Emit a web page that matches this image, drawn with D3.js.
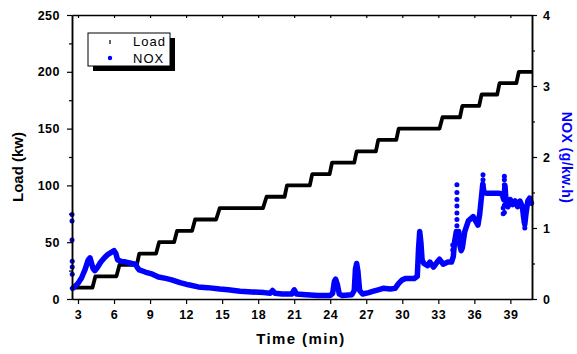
<!DOCTYPE html>
<html><head><meta charset="utf-8">
<script src="https://cdn.jsdelivr.net/npm/d3@7"></script>
<style>
html,body{margin:0;padding:0;background:#fff;}
svg{display:block;font-family:"Liberation Sans",Arial,sans-serif;}
.tick text{font-weight:bold;font-size:12.5px;letter-spacing:0.5px;fill:#000;}
</style></head>
<body>
<svg id="c" width="577" height="354"></svg>
<script>
// Load (kW) step profile, breakpoints
const loadTime  = [2.5,4.2,4.45,6.2,6.45,7.9,8.1,9.5,9.75,11.0,11.25,12.5,12.75,14.5,14.8,18.4,18.7,20.2,20.4,22.3,22.5,23.95,24.15,26.0,26.2,27.8,28.0,29.5,29.7,33.1,33.35,34.8,35.0,36.4,36.6,37.9,38.1,39.5,39.7,40.8];
const loadValue = [10,10,20,20,30,30,40,40,50,50,60,60,70,70,80,80,90,90,100,100,110,110,120,120,130,130,140,140,150,150,160,160,170,170,180,180,190,190,200,200];

// NOX (g/kW.h) main trace
const noxTime  = [2.55,2.7,3.0,3.3,3.6,3.85,4.0,4.1,4.25,4.4,4.6,4.9,5.2,5.5,5.8,6.0,6.15,6.3,6.6,7.0,7.5,7.8,7.95,8.1,8.6,9.2,9.7,10.3,10.8,11.5,12.2,13.0,13.8,14.8,15.5,16.5,17.5,18.5,19.0,19.2,19.4,20.0,20.8,21.0,21.2,22.0,23.0,24.0,24.2,24.35,24.45,24.6,24.75,25.0,25.8,26.0,26.1,26.2,26.3,26.45,26.7,27.2,27.6,28.0,28.4,29.0,29.4,29.7,30.0,30.3,31.0,31.25,31.35,31.45,31.55,31.65,31.8,32.1,32.3,32.6,32.9,33.1,33.4,33.8,34.1,34.25,34.35,34.5,34.6,34.7,34.8,34.9,35.0,35.2,35.5,35.9,36.1,36.3,36.45,36.6,36.7,36.8,37.0,37.5,38.0,38.3,38.45,38.55,38.65,38.8,39.0,39.2,39.4,39.6,39.8,40.0,40.1,40.2,40.3,40.45,40.6,40.75];
const noxValue = [0.15,0.17,0.22,0.3,0.42,0.55,0.58,0.52,0.43,0.40,0.44,0.52,0.58,0.63,0.66,0.68,0.64,0.55,0.53,0.52,0.50,0.49,0.44,0.41,0.38,0.35,0.31,0.29,0.27,0.23,0.20,0.17,0.16,0.14,0.13,0.11,0.10,0.09,0.08,0.12,0.08,0.07,0.07,0.13,0.07,0.06,0.05,0.05,0.08,0.25,0.28,0.2,0.07,0.05,0.06,0.12,0.42,0.5,0.4,0.12,0.07,0.09,0.11,0.13,0.15,0.14,0.15,0.22,0.27,0.29,0.29,0.32,0.7,0.95,0.8,0.55,0.5,0.47,0.52,0.45,0.52,0.56,0.49,0.52,0.52,0.6,0.8,0.95,0.85,0.95,0.75,0.68,0.72,0.95,1.1,1.16,1.1,1.04,1.2,1.45,1.62,1.5,1.49,1.49,1.49,1.48,1.4,1.6,1.35,1.3,1.4,1.33,1.38,1.3,1.38,1.3,1.15,1.05,1.2,1.38,1.42,1.35];

// NOX scattered outlier points
const noxDotTime  = [2.5,2.5,2.5,2.52,2.52,2.52,34.55,34.55,34.55,34.55,34.55,34.55,34.55,34.2,34.2,36.72,36.72,36.72,36.72,38.5,38.5,38.5,38.5,38.5,38.5,38.5,38.4,38.4,40.2,40.15];
const noxDotValue = [1.19,1.10,0.83,0.53,0.45,0.35,1.61,1.50,1.40,1.31,1.21,1.12,1.03,0.76,0.69,1.75,1.68,1.61,1.54,1.73,1.68,1.61,1.51,1.42,1.32,1.22,1.28,1.2,1.0,1.08];

const xTicks = [3,6,9,12,15,18,21,24,27,30,33,36,39];
const yLeftTicks = [0,50,100,150,200,250];
const yLeftMinor = [25,75,125,175,225];
const yRightTicks = [0,1,2,3,4];
const yRightMinor = [0.5,1.5,2.5,3.5];

const svg = d3.select("#c");
const L=72,R=532,T=15,B=299;
const x = d3.scaleLinear().domain([2.5,40.8]).range([L,R]);
const yL = d3.scaleLinear().domain([0,250]).range([B,T]);
const yR = d3.scaleLinear().domain([0,4]).range([B,T]);

// data
const loadLine = d3.line().x((d,i)=>x(loadTime[i])).y((d,i)=>yL(loadValue[i]));
svg.append("path").attr("d",loadLine(loadTime)).attr("fill","none")
  .attr("stroke","#000").attr("stroke-width",3.8).attr("stroke-linejoin","round");

const noxLine = d3.line().x((d,i)=>x(noxTime[i])).y((d,i)=>yR(noxValue[i]));
svg.append("path").attr("d",noxLine(noxTime)).attr("fill","none")
  .attr("stroke","#0000ff").attr("stroke-width",5.5).attr("stroke-linejoin","round").attr("stroke-linecap","round");
svg.append("g").selectAll("circle").data(noxDotTime).join("circle")
  .attr("cx",(d,i)=>x(noxDotTime[i])).attr("cy",(d,i)=>yR(noxDotValue[i])).attr("r",2.5).attr("fill","#0000ff");

// axes
const ax = svg.append("g");
ax.append("g").attr("transform",`translate(0,${B})`)
  .call(d3.axisBottom(x).tickValues(xTicks).tickSize(5).tickPadding(6).tickSizeOuter(0));
ax.append("g").attr("transform",`translate(0,${T})`)
  .call(d3.axisBottom(x).tickValues(xTicks).tickSize(3).tickFormat("").tickSizeOuter(0));
ax.append("g").attr("transform",`translate(${L},0)`)
  .call(d3.axisLeft(yL).tickValues(yLeftTicks).tickSize(5).tickPadding(7).tickSizeOuter(0));
ax.append("g").attr("transform",`translate(${L},0)`)
  .call(d3.axisLeft(yL).tickValues(yLeftMinor).tickSize(3).tickFormat("").tickSizeOuter(0));
ax.append("g").attr("transform",`translate(${R},0)`)
  .call(d3.axisRight(yR).tickValues(yRightTicks).tickFormat(d3.format("d")).tickSize(5).tickPadding(6).tickSizeOuter(0));
ax.append("g").attr("transform",`translate(${R},0)`)
  .call(d3.axisRight(yR).tickValues(yRightMinor).tickSize(3).tickFormat("").tickSizeOuter(0));
ax.selectAll(".domain").attr("stroke","#000").attr("stroke-width",1.5);
ax.selectAll(".tick line").attr("stroke","#000").attr("stroke-width",1.2);
ax.selectAll("text").attr("font-family","Liberation Sans, Arial, sans-serif");

// titles
svg.append("text").attr("x",301).attr("y",344).attr("text-anchor","middle")
  .attr("font-weight","bold").attr("font-size",15).attr("letter-spacing",1.4).text("Time (min)");
svg.append("text").attr("transform","translate(23,167) rotate(-90)").attr("text-anchor","middle")
  .attr("font-weight","bold").attr("font-size",15).text("Load (kw)");
svg.append("text").attr("transform","translate(562,157.5) rotate(90)").attr("text-anchor","middle")
  .attr("font-weight","bold").attr("font-size",14).attr("letter-spacing",0.4).attr("fill","#0000ff").text("NOX (g/kw.h)");

// legend
const lg = svg.append("g");
lg.append("rect").attr("x",93).attr("y",38).attr("width",82).attr("height",33).attr("fill","#000");
lg.append("rect").attr("x",88).attr("y",33).attr("width",82).attr("height",33).attr("fill","#fff").attr("stroke","#000").attr("stroke-width",1);
lg.append("line").attr("x1",110).attr("x2",110).attr("y1",40).attr("y2",44).attr("stroke","#000").attr("stroke-width",1.2);
lg.append("circle").attr("cx",110).attr("cy",58).attr("r",2.2).attr("fill","#0000ff");
lg.append("text").attr("x",133).attr("y",46).attr("font-size",13).attr("letter-spacing",1).text("Load");
lg.append("text").attr("x",133).attr("y",62.5).attr("font-size",13).attr("letter-spacing",1).text("NOX");
</script>
</body></html>
